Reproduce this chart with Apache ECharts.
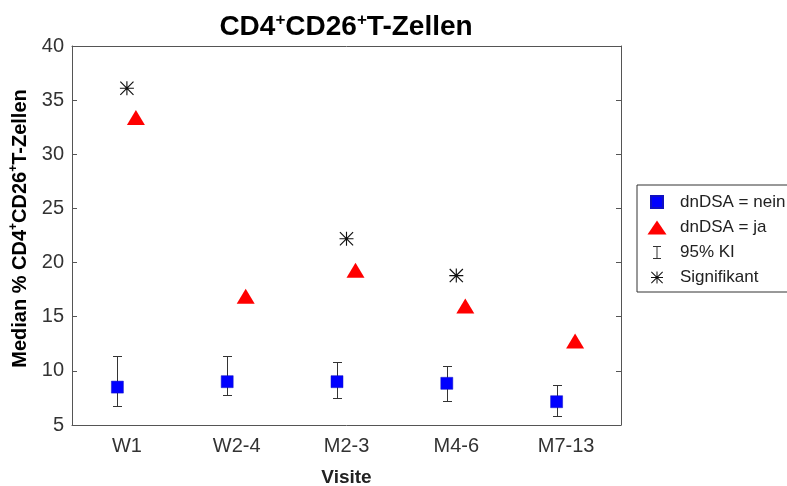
<!DOCTYPE html>
<html>
<head>
<meta charset="utf-8">
<script src="https://cdn.jsdelivr.net/npm/echarts@6/dist/echarts.min.js"></script>
<style>html,body{margin:0;padding:0;background:#fff;}#chart{width:787px;height:486px;}</style>
</head>
<body>
<div id="chart"></div>
<script>
// ---- data ----
var categories = ['W1', 'W2-4', 'M2-3', 'M4-6', 'M7-13'];
var medianNein = [8.5, 9.0, 9.0, 8.85, 7.15];
var medianJa = [33.4, 16.9, 19.3, 16.0, 12.75];
var kiLow = [6.75, 7.75, 7.45, 7.2, 5.8];
var kiHigh = [11.4, 11.4, 10.8, 10.45, 8.65];
var signifikant = [36.1, null, 22.2, 18.8, null];
var yTicks = { min: 5, max: 40, interval: 5 };

// ---- styling constants ----
var FONT = 'Liberation Sans';
var AXIS_COLOR = '#555';
var OFF_NEIN = -9.5, OFF_JA = 9;
var STAR_PATH = 'path://M4.6,0H5.4V10H4.6Z M0,4.6H10V5.4H0Z M0.6,0L10,9.4L9.4,10L0,0.6Z M9.4,0L10,0.6L0.6,10L0,9.4Z';
var BOX = 'M0,0M31,16';
var LEG_SQUARE = 'path://' + BOX + 'M7,2H19V14H7Z';
var LEG_TRI = 'path://' + BOX + 'M13,1L22.5,15L3.5,15Z';
var LEG_KI = 'path://' + BOX + 'M9,1.5H17V2.5H13.5V13.5H17V14.5H9V13.5H12.5V2.5H9Z';
var LEG_STAR = 'path://' + BOX + 'M12.5,2H13.5V14H12.5Z M7,7.5H19V8.5H7Z M7.7,2L19,13.3L18.3,14L7,2.7Z M18.3,2L19,2.7L7.7,14L7,13.3Z';

function pairs(arr) {
  var out = [];
  arr.forEach(function (v, i) { if (v != null) out.push([i, v]); });
  return out;
}
var kiData = categories.map(function (c, i) { return [i, kiLow[i], kiHigh[i]]; });

var chart = echarts.init(document.getElementById('chart'), null, { renderer: 'canvas' });

var supRich = function (size, lh, supSize, supLh) {
  return {
    n: { fontFamily: FONT, fontWeight: 'bold', fontSize: size, lineHeight: lh, color: '#000' },
    s: { fontFamily: FONT, fontWeight: 'bold', fontSize: supSize, lineHeight: supLh, verticalAlign: 'top', color: '#000' }
  };
};

var option = {
  backgroundColor: '#fff',
  animation: false,
  title: {
    text: '{n|CD4}{s|+}{n|CD26}{s|+}{n|T-Zellen}',
    left: 346,
    top: 12,
    padding: 0,
    textAlign: 'center',
    textStyle: { rich: supRich(28, 30, 17, 22) }
  },
  grid: { left: 72, right: 166, top: 46, bottom: 61, containLabel: false, outerBoundsMode: 'none' },
  legend: {
    orient: 'vertical',
    left: 637,
    top: 185,
    padding: [8, 8, 6, 6],
    itemWidth: 31,
    itemHeight: 16,
    itemGap: 8,
    borderColor: '#333',
    borderWidth: 1,
    backgroundColor: '#fff',
    textStyle: { fontFamily: FONT, fontSize: 17, lineHeight: 16, color: '#222' },
    data: [
      { name: 'dnDSA = nein', icon: LEG_SQUARE },
      { name: 'dnDSA = ja', icon: LEG_TRI },
      { name: '95% KI', icon: LEG_KI },
      { name: 'Signifikant', icon: LEG_STAR }
    ]
  },
  xAxis: [{
    type: 'category',
    data: categories,
    boundaryGap: true,
    name: 'Visite',
    nameLocation: 'middle',
    nameGap: 42,
    nameTextStyle: { fontFamily: FONT, fontWeight: 'bold', fontSize: 19, lineHeight: 22, color: '#222' },
    axisLine: { lineStyle: { color: AXIS_COLOR, width: 1 } },
    axisTick: { inside: true, alignWithLabel: true, length: 5, lineStyle: { color: AXIS_COLOR } },
    axisLabel: { fontFamily: FONT, fontSize: 20, lineHeight: 20, margin: 11, color: '#333' },
    splitLine: { show: false }
  }, {
    type: 'category',
    data: categories,
    position: 'top',
    boundaryGap: true,
    axisLine: { lineStyle: { color: AXIS_COLOR, width: 1 } },
    axisTick: { inside: true, alignWithLabel: true, length: 5, lineStyle: { color: AXIS_COLOR } },
    axisLabel: { show: false },
    splitLine: { show: false }
  }],
  yAxis: [{
    type: 'value',
    min: yTicks.min,
    max: yTicks.max,
    interval: yTicks.interval,
    name: '{n|Median % CD4}{s|+}{n|CD26}{s|+}{n|T-Zellen}',
    nameLocation: 'middle',
    nameRotate: 90,
    nameGap: 40,
    nameTextStyle: { padding: [0, 0, 0, 14], rich: supRich(20, 24, 12, 16) },
    axisLine: { show: true, lineStyle: { color: AXIS_COLOR, width: 1 } },
    axisTick: { show: true, inside: true, length: 5, lineStyle: { color: AXIS_COLOR } },
    axisLabel: { fontFamily: FONT, fontSize: 20, margin: 8, color: '#333' },
    splitLine: { show: false }
  }, {
    type: 'value',
    position: 'right',
    min: yTicks.min,
    max: yTicks.max,
    interval: yTicks.interval,
    axisLine: { show: true, lineStyle: { color: AXIS_COLOR, width: 1 } },
    axisTick: { show: true, inside: true, length: 5, lineStyle: { color: AXIS_COLOR } },
    axisLabel: { show: false },
    splitLine: { show: false }
  }],
  series: [{
    name: '95% KI',
    type: 'custom',
    xAxisIndex: 0,
    yAxisIndex: 0,
    itemStyle: { color: '#333' },
    encode: { x: 0, y: [1, 2] },
    data: kiData,
    z: 2,
    renderItem: function (params, api) {
      var i = api.value(0);
      var lo = api.coord([i, api.value(1)]);
      var hi = api.coord([i, api.value(2)]);
      var x = Math.round(lo[0] + OFF_NEIN) + 0.5;
      var y1 = Math.round(hi[1]) + 0.5, y2 = Math.round(lo[1]) + 0.5;
      var hw = 4.5;
      var st = { stroke: '#333', lineWidth: 1 };
      return {
        type: 'group',
        children: [
          { type: 'line', shape: { x1: x, y1: y1, x2: x, y2: y2 }, style: st },
          { type: 'line', shape: { x1: x - hw, y1: y1, x2: x + hw, y2: y1 }, style: st },
          { type: 'line', shape: { x1: x - hw, y1: y2, x2: x + hw, y2: y2 }, style: st }
        ]
      };
    }
  }, {
    name: 'dnDSA = nein',
    type: 'scatter',
    symbol: 'rect',
    symbolSize: 12,
    symbolOffset: [OFF_NEIN, 0],
    itemStyle: { color: '#0000ff', borderColor: '#1010c0', borderWidth: 0.5, opacity: 1 },
    data: pairs(medianNein),
    z: 3
  }, {
    name: 'dnDSA = ja',
    type: 'scatter',
    symbol: 'triangle',
    symbolSize: [18, 15],
    symbolOffset: [OFF_JA, 0],
    itemStyle: { color: '#ff0000', opacity: 1 },
    data: pairs(medianJa),
    z: 3
  }, {
    name: 'Signifikant',
    type: 'scatter',
    symbol: STAR_PATH,
    symbolSize: 14,
    itemStyle: { color: '#111', opacity: 1 },
    data: pairs(signifikant),
    z: 3
  }]
};
chart.setOption(option);
</script>
</body>
</html>
